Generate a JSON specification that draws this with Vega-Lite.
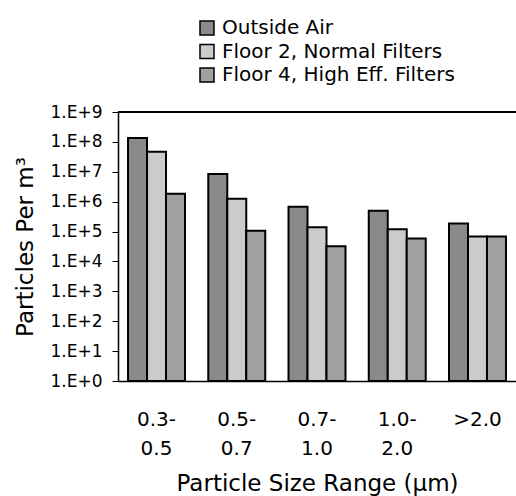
{
  "$schema": "https://vega.github.io/schema/vega-lite/v6.json",
  "autosize": "none",
  "width": 398,
  "height": 269,
  "padding": {"left": 118, "top": 112, "right": 0, "bottom": 115},
  "background": "white",
  "config": {
    "font": "DejaVu Sans",
    "view": {"stroke": null},
    "axis": {"grid": false, "labelColor": "black", "titleColor": "black", "domainColor": "black", "tickColor": "black", "titleFontWeight": "normal"}
  },
  "data": {
    "values": [
      {"size": "0.3- 0.5", "series": "Outside Air", "value": 135000000},
      {"size": "0.3- 0.5", "series": "Floor 2, Normal Filters", "value": 47000000},
      {"size": "0.3- 0.5", "series": "Floor 4, High Eff. Filters", "value": 1850000},
      {"size": "0.5- 0.7", "series": "Outside Air", "value": 8500000},
      {"size": "0.5- 0.7", "series": "Floor 2, Normal Filters", "value": 1260000},
      {"size": "0.5- 0.7", "series": "Floor 4, High Eff. Filters", "value": 107000},
      {"size": "0.7- 1.0", "series": "Outside Air", "value": 680000},
      {"size": "0.7- 1.0", "series": "Floor 2, Normal Filters", "value": 140000},
      {"size": "0.7- 1.0", "series": "Floor 4, High Eff. Filters", "value": 32000},
      {"size": "1.0- 2.0", "series": "Outside Air", "value": 500000},
      {"size": "1.0- 2.0", "series": "Floor 2, Normal Filters", "value": 120000},
      {"size": "1.0- 2.0", "series": "Floor 4, High Eff. Filters", "value": 59000},
      {"size": ">2.0", "series": "Outside Air", "value": 185000},
      {"size": ">2.0", "series": "Floor 2, Normal Filters", "value": 68000},
      {"size": ">2.0", "series": "Floor 4, High Eff. Filters", "value": 68000}
    ]
  },
  "layer": [
    {
      "mark": {"type": "bar", "stroke": "black", "strokeWidth": 2},
      "encoding": {
        "x": {
          "field": "size", "type": "nominal",
          "sort": ["0.3- 0.5", "0.5- 0.7", "0.7- 1.0", "1.0- 2.0", ">2.0"],
          "scale": {"paddingInner": 0.29, "paddingOuter": 0.125},
          "axis": {
            "title": "Particle Size Range (µm)",
            "titleFontSize": 23,
            "titlePadding": 14,
            "labelAngle": 0,
            "labelFontSize": 20,
            "labelPadding": 28,
            "labelLineHeight": 29,
            "labelExpr": "split(datum.label, ' ')",
            "ticks": false,
            "domainWidth": 1.5
          }
        },
        "xOffset": {
          "field": "series", "type": "nominal",
          "sort": ["Outside Air", "Floor 2, Normal Filters", "Floor 4, High Eff. Filters"]
        },
        "y": {
          "field": "value", "type": "quantitative",
          "scale": {"type": "log", "domain": [1, 1000000000], "zero": false, "nice": false},
          "axis": {
            "title": "Particles Per m³",
            "titleFontSize": 23,
            "titlePadding": 12,
            "values": [1, 10, 100, 1000, 10000, 100000, 1000000, 10000000, 100000000, 1000000000],
            "labelExpr": "'1.E+' + round(log(datum.value) / LN10)",
            "labelFontSize": 17,
            "labelPadding": 10,
            "tickSize": 6,
            "domainWidth": 1.5
          }
        },
        "y2": {"datum": 1},
        "color": {
          "field": "series", "type": "nominal",
          "sort": ["Outside Air", "Floor 2, Normal Filters", "Floor 4, High Eff. Filters"],
          "scale": {"range": ["#8a8a8a", "#cbcbcb", "#a0a0a0"]},
          "legend": {
            "title": null,
            "orient": "none",
            "legendX": 79,
            "legendY": -94,
            "symbolType": "square",
            "symbolSize": 196,
            "symbolStrokeColor": "black",
            "symbolStrokeWidth": 1.5,
            "symbolOpacity": 1,
            "labelFontSize": 20,
            "labelColor": "black",
            "labelLimit": 400,
            "labelOffset": 5,
            "rowPadding": 3.5
          }
        }
      }
    },
    {
      "mark": {"type": "rule", "color": "black", "strokeWidth": 1.5},
      "encoding": {"y": {"datum": 1000000000}}
    }
  ]
}
